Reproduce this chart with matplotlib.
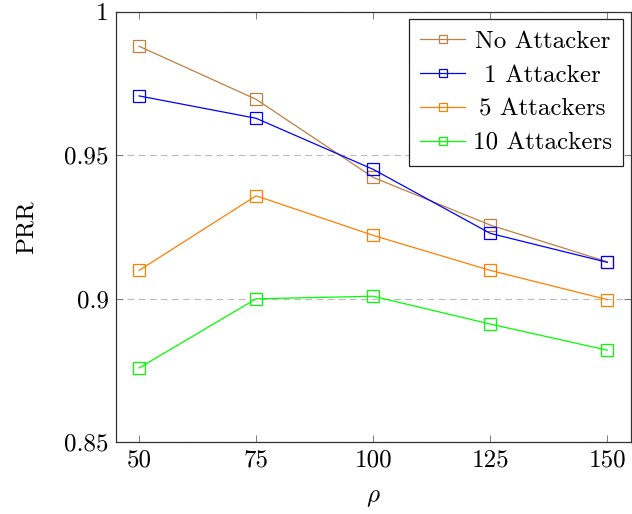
import matplotlib
matplotlib.use("Agg")
import matplotlib.pyplot as plt
from matplotlib.ticker import FixedLocator, FixedFormatter

rho = [50, 75, 100, 125, 150]
no_attacker = [0.988, 0.9695, 0.9423, 0.9257, 0.9129]
one_attacker = [0.9707, 0.9629, 0.9451, 0.9228, 0.9127]
five_attackers = [0.9099, 0.9359, 0.9221, 0.9099, 0.8997]
ten_attackers = [0.8759, 0.9000, 0.9009, 0.8912, 0.8821]
series_labels = ["No Attacker", "1 Attacker", "5 Attackers", "10 Attackers"]
colors = ["#BF8040", "#0000FF", "#FF8000", "#00FF00"]
yticks = [0.85, 0.9, 0.95, 1.0]
ytick_labels = ["0.85", "0.9", "0.95", "1"]

plt.rcParams['font.family'] = ['cmr10', 'DejaVu Serif']
plt.rcParams['mathtext.fontset'] = 'cm'
plt.rcParams['axes.formatter.use_mathtext'] = True

fig = plt.figure(figsize=(6.32, 5.14), dpi=100)
ax = fig.add_axes([0.183, 0.1395, 0.815, 0.8375])

for vals, lab, c in zip([no_attacker, one_attacker, five_attackers, ten_attackers], series_labels, colors):
    ax.plot(rho, vals, color=c, lw=0.9, marker='s', markersize=8,
            markerfacecolor='none', markeredgecolor=c, markeredgewidth=0.9, label=lab)

ax.set_xlim(45, 155)
ax.set_ylim(0.85, 1.0)
ax.xaxis.set_major_locator(FixedLocator(rho))
ax.set_xticklabels([str(r) for r in rho])
ax.yaxis.set_major_locator(FixedLocator(yticks))
ax.yaxis.set_major_formatter(FixedFormatter(ytick_labels))
ax.tick_params(direction='in', top=True, right=True, length=5, width=0.6,
               color='#666666', labelsize=18, pad=5)
ax.grid(axis='y', linestyle=(0, (6, 4)), color='#bbbbbb', lw=0.8)
ax.set_axisbelow(True)
for s in ax.spines.values():
    s.set_color('#333333')
    s.set_linewidth(0.9)

ax.set_xlabel(r'$\rho$', fontsize=18, labelpad=11)
ax.set_ylabel('PRR', fontsize=18, labelpad=19)

leg = ax.legend(loc='upper right', fontsize=18, frameon=True, fancybox=False,
                edgecolor='#222222', framealpha=1, borderpad=0.45, labelspacing=0.45,
                handlelength=1.8, handletextpad=0.3, borderaxespad=0.3, markerscale=0.8)
leg.get_frame().set_linewidth(0.9)

# center legend labels within their column, like pgfplots
fig.canvas.draw()
texts = leg.get_texts()
widths = [t.get_window_extent().width for t in texts]
maxw = max(widths)
for t, w in zip(texts, widths):
    x, y = t.get_position()
    t.set_position((x + (maxw - w) / 2.0, y))

fig.savefig("out.png", dpi=100)
